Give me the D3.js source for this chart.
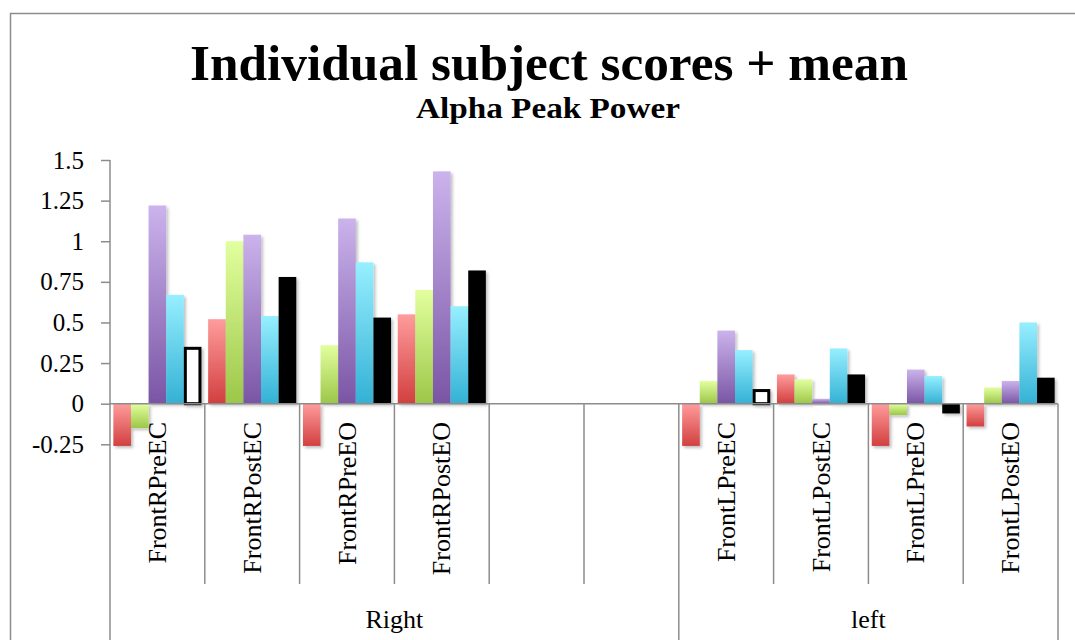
<!DOCTYPE html>
<html>
<head>
<meta charset="utf-8">
<script src="https://cdn.jsdelivr.net/npm/d3@7"></script>
<style>
  body { margin: 0; background: #fff; }
  svg { display: block; }
</style>
</head>
<body>
<div class="chart"></div>
<script>
// categories, left to right (two blank slots between the groups)
var categories = ["FrontRPreEC", "FrontRPostEC", "FrontRPreEO", "FrontRPostEO", "", "",
                  "FrontLPreEC", "FrontLPostEC", "FrontLPreEO", "FrontLPostEO"];
var groupNames = ["Right", "left"];
var groupSizes = [6, 4];

var seriesNames = ["s1", "s2", "s3", "s4", "mean"];
var s1   = [-0.26, 0.52, -0.26, 0.55, null, null, -0.26, 0.18, -0.26, -0.14];
var s2   = [-0.15, 1.00,  0.36, 0.70, null, null,  0.14, 0.15, -0.07,  0.10];
var s3   = [ 1.22, 1.04,  1.14, 1.43, null, null,  0.45, 0.03,  0.21,  0.14];
var s4   = [ 0.67, 0.54,  0.87, 0.60, null, null,  0.33, 0.34,  0.17,  0.50];
var mean = [ 0.35, 0.78,  0.53, 0.82, null, null,  0.09, 0.18, -0.06,  0.16];
var seriesValues = [s1, s2, s3, s4, mean];

var yTicks = [-0.25, 0, 0.25, 0.5, 0.75, 1, 1.25, 1.5];
var tickLabels = ["-0.25", "0", "0.25", "0.5", "0.75", "1", "1.25", "1.5"];

var title = "Individual subject scores + mean";
var subtitle = "Alpha Peak Power";

// mean bars drawn hollow for these slots
var hollowMean = [0, 6];

var width = 1075, height = 640;
var axisColor = "#8c8c8c";
var labelFont = "Liberation Serif, serif";
var gradColors = [["#ff9c9c", "#d23f3f"], ["#e2ff9e", "#9cc748"],
                  ["#cbb3ec", "#7a55a5"], ["#97efff", "#33b1d5"]];

var svg = d3.select(".chart")
    .append("svg")
    .attr("width", width)
    .attr("height", height);

var defs = svg.append("defs");
gradColors.forEach(function(c, i) {
    var g = defs.append("linearGradient")
        .attr("id", "grad" + i)
        .attr("x1", 0).attr("y1", 0).attr("x2", 0).attr("y2", 1);
    g.append("stop").attr("offset", "0%").attr("stop-color", c[0]);
    g.append("stop").attr("offset", "100%").attr("stop-color", c[1]);
});
defs.append("filter")
    .attr("id", "shadow")
    .attr("x", "-20%").attr("y", "-20%").attr("width", "160%").attr("height", "160%")
    .append("feDropShadow")
    .attr("dx", 2).attr("dy", 2).attr("stdDeviation", 1.5)
    .attr("flood-color", "#000").attr("flood-opacity", 0.25);

// chart frame (runs off the right and bottom edges)
svg.append("rect")
    .attr("x", 10.5).attr("y", 13.5)
    .attr("width", 1100).attr("height", 700)
    .attr("fill", "none")
    .attr("stroke", axisColor)
    .attr("stroke-width", 1.5);

svg.append("text")
    .attr("x", 549).attr("y", 80)
    .attr("text-anchor", "middle")
    .attr("font-family", labelFont)
    .attr("font-weight", "bold")
    .attr("font-size", "50px")
    .attr("textLength", 718)
    .attr("lengthAdjust", "spacingAndGlyphs")
    .text(title);

svg.append("text")
    .attr("x", 548).attr("y", 118)
    .attr("text-anchor", "middle")
    .attr("font-family", labelFont)
    .attr("font-weight", "bold")
    .attr("font-size", "30px")
    .attr("textLength", 264)
    .attr("lengthAdjust", "spacingAndGlyphs")
    .text(subtitle);

var y = d3.scaleLinear().domain([-0.25, 1.5]).range([444.3, 160]);
var x0 = d3.scaleBand()
    .domain(d3.range(categories.length))
    .range([110, 1058])
    .padding(0);
var x1 = d3.scaleBand()
    .domain(seriesNames)
    .range([0, x0.bandwidth()])
    .paddingInner(0)
    .paddingOuter(0.19);

// y axis
var yAxis = d3.axisLeft(y)
    .tickValues(yTicks)
    .tickSize(9)
    .tickPadding(17)
    .tickFormat(function(d, i) { return tickLabels[i]; });

var yg = svg.append("g")
    .attr("transform", "translate(110,0)")
    .call(yAxis);
yg.select(".domain").remove();
yg.selectAll(".tick line").attr("stroke", axisColor).attr("stroke-width", 1.5);
yg.selectAll(".tick text")
    .attr("fill", "#000")
    .attr("font-family", labelFont)
    .attr("font-size", "25px");

// bars
var barData = [];
seriesValues.forEach(function(vals, si) {
    vals.forEach(function(v, ci) {
        if (v !== null) barData.push({ series: seriesNames[si], si: si, ci: ci, value: v });
    });
});

svg.append("g")
    .selectAll("rect")
    .data(barData)
    .enter()
    .append("rect")
    .attr("x", function(d) { return x0(d.ci) + x1(d.series); })
    .attr("y", function(d) { return y(Math.max(0, d.value)); })
    .attr("width", x1.bandwidth())
    .attr("height", function(d) { return Math.abs(y(d.value) - y(0)); })
    .attr("filter", "url(#shadow)")
    .attr("fill", function(d) {
        if (d.si < 4) return "url(#grad" + d.si + ")";
        return hollowMean.indexOf(d.ci) >= 0 ? "#fff" : "#000";
    })
    .each(function(d) {
        if (d.si === 4 && hollowMean.indexOf(d.ci) >= 0) {
            d3.select(this)
                .attr("stroke", "#000")
                .attr("stroke-width", 3)
                .attr("x", x0(d.ci) + x1(d.series) + 1.5)
                .attr("width", x1.bandwidth() - 3)
                .attr("y", y(Math.max(0, d.value)) + 1.5)
                .attr("height", Math.abs(y(d.value) - y(0)) - 1.5);
        }
    });

// axis lines
var axes = svg.append("g")
    .attr("stroke", axisColor)
    .attr("stroke-width", 1.5)
    .attr("fill", "none");

axes.append("line")
    .attr("x1", 110).attr("x2", 110)
    .attr("y1", y(1.5)).attr("y2", 640);
axes.append("line")
    .attr("x1", 110).attr("x2", x0.range()[1])
    .attr("y1", y(0)).attr("y2", y(0));

// category dividers
var groupEnds = [];
var acc = 0;
groupSizes.forEach(function(n) { acc += n; groupEnds.push(acc); });

d3.range(1, categories.length + 1).forEach(function(i) {
    var xe = i < categories.length ? x0(i) : x0.range()[1];
    var isGroupEdge = groupEnds.indexOf(i) >= 0;
    axes.append("line")
        .attr("x1", xe).attr("x2", xe)
        .attr("y1", y(0))
        .attr("y2", isGroupEdge ? 640 : 584);
});

// category labels
svg.append("g")
    .selectAll("text")
    .data(categories)
    .enter()
    .append("text")
    .attr("transform", function(d, i) {
        return "translate(" + (x0(i) + x0.bandwidth() / 2) + ",422) rotate(-90)";
    })
    .attr("text-anchor", "end")
    .attr("dy", "0.33em")
    .attr("font-family", labelFont)
    .attr("font-size", "26px")
    .text(function(d) { return d; });

// group labels
var start = 0;
groupNames.forEach(function(name, gi) {
    var a = x0(start);
    var b = start + groupSizes[gi] < categories.length ? x0(start + groupSizes[gi]) : x0.range()[1];
    svg.append("text")
        .attr("x", (a + b) / 2)
        .attr("y", 628)
        .attr("text-anchor", "middle")
        .attr("font-family", labelFont)
        .attr("font-size", "26px")
        .text(name);
    start += groupSizes[gi];
});
</script>
</body>
</html>
